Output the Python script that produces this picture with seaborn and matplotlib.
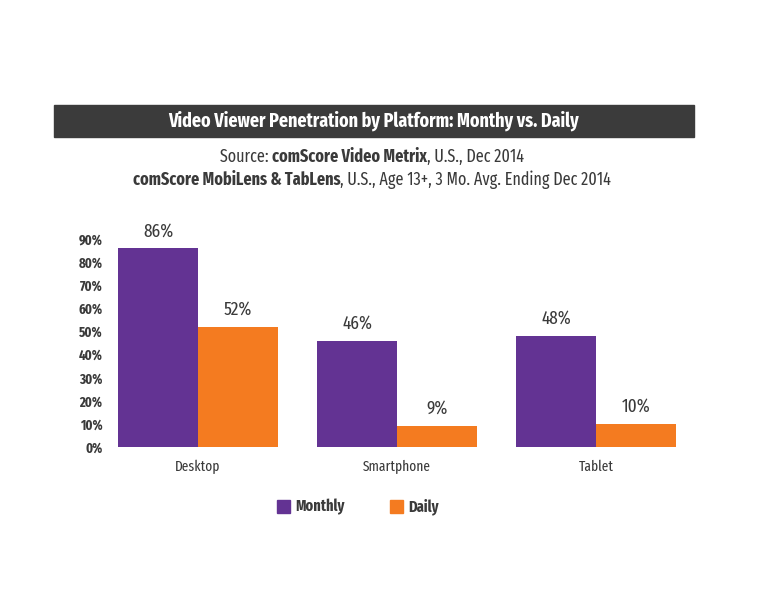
import matplotlib
matplotlib.use("Agg")
import matplotlib.pyplot as plt
import seaborn as sns
import pandas as pd
from matplotlib.patches import Rectangle
from matplotlib import font_manager

platforms = ["Desktop", "Smartphone", "Tablet"]
monthly = [86, 46, 48]
daily = [52, 9, 10]
series_names = ["Monthly", "Daily"]
yticks = [0, 10, 20, 30, 40, 50, 60, 70, 80, 90]

names = {f.name for f in font_manager.fontManager.ttflist}
FONT = "Fira Sans Extra Condensed" if "Fira Sans Extra Condensed" in names else "DejaVu Sans"

sns.set_theme(style="white")
plt.rcParams['font.family'] = [FONT, 'DejaVu Sans']

PURPLE = "#633393"
ORANGE = "#F47B20"
TXT = "#3a3a3a"

df = pd.DataFrame({
    "Platform": platforms * 2,
    "Series": [series_names[0]] * 3 + [series_names[1]] * 3,
    "Value": monthly + daily,
})

W, H = 768, 614
fig = plt.figure(figsize=(W / 100, H / 100), dpi=100)
ax = fig.add_axes([108 / W, (H - 447) / H, (686 - 108) / W, (447 - 239) / H])

sns.barplot(data=df, x="Platform", y="Value", hue="Series",
            palette=[PURPLE, ORANGE], width=0.8, ax=ax, legend=False,
            saturation=1, edgecolor="none")
ax.set_xlim(-0.452, 2.452)
ax.set_ylim(0, 90)
ax.set_yticks(yticks)
ax.set_yticklabels([f"{v}%" for v in yticks], fontsize=10, color=TXT, fontweight="bold")
ax.tick_params(axis="y", length=0, pad=4)
ax.tick_params(axis="x", length=0, pad=9, labelsize=10.5, labelcolor=TXT)
ax.set_xlabel("")
ax.set_ylabel("")
for s in ax.spines.values():
    s.set_visible(False)
ax.grid(False)

for cont in ax.containers:
    ax.bar_label(cont, labels=[f"{v:.0f}%" for v in cont.datavalues],
                 padding=6, fontsize=13.5, color=TXT)

# Title bar
fig.patches.append(Rectangle((54 / W, (H - 137) / H), (694 - 54) / W, 32 / H,
                             transform=fig.transFigure, color="#3b3b3b", zorder=0))
fig.text(374 / W, (H - 121) / H, "Video Viewer Penetration by Platform: Monthy vs. Daily",
         ha="center", va="center", color="white", fontsize=14, fontweight="bold")

# Subtitle lines with mixed weights
fig.canvas.draw()
renderer = fig.canvas.get_renderer()

def mixed_line(parts, ycenter, xcenter, size):
    texts = []
    for s, w in parts:
        t = fig.text(0, (H - ycenter) / H, s, ha="left", va="center",
                     fontsize=size, fontweight=w, color=TXT)
        texts.append(t)
    widths = [t.get_window_extent(renderer).width for t in texts]
    total = sum(widths)
    x = xcenter - total / 2
    for t, wd in zip(texts, widths):
        t.set_x(x / W)
        x += wd

mixed_line([("Source: ", "normal"), ("comScore Video Metrix", "bold"),
            (", U.S., Dec 2014", "normal")], 157, 372, 12.6)
mixed_line([("comScore MobiLens & TabLens", "bold"),
            (", U.S., Age 13+, 3 Mo. Avg. Ending Dec 2014", "normal")], 180, 372, 12.6)

# Legend
for (x0, lab, col) in [(277, series_names[0], PURPLE), (390, series_names[1], ORANGE)]:
    fig.patches.append(Rectangle((x0 / W, (H - 513) / H), 13 / W, 13 / H,
                                 transform=fig.transFigure, color=col))
    fig.text((x0 + 18) / W, (H - 507) / H, lab, ha="left", va="center",
             fontsize=11.3, fontweight="bold", color=TXT)

fig.savefig("out.png", dpi=100, facecolor="white")
